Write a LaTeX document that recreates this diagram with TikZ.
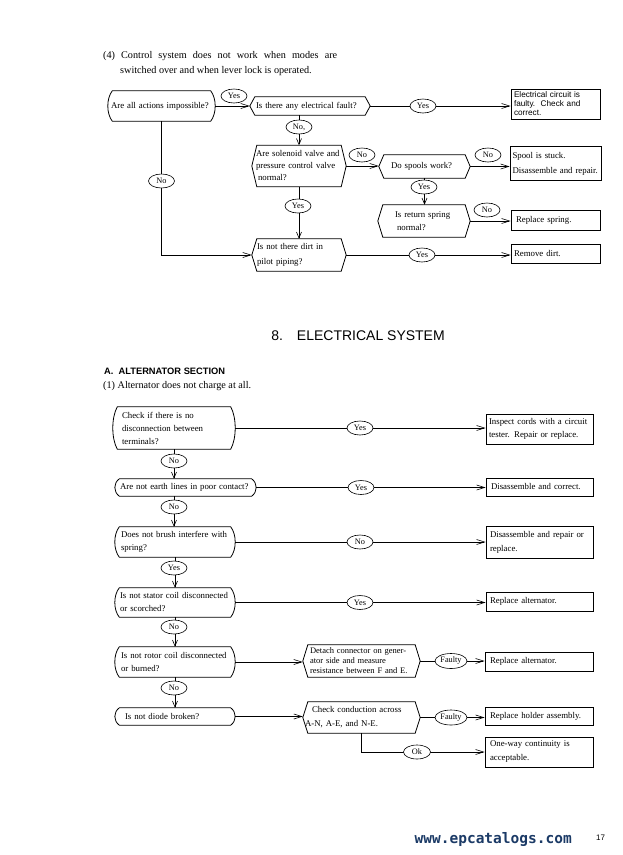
\documentclass[tikz,border=0pt]{standalone}
\usepackage{fontspec}
\setmainfont{Liberation Serif}
\newfontfamily\hsans{Liberation Sans}
\newfontfamily\hmono{DejaVu Sans Mono}
\usetikzlibrary{arrows.meta,calc,shapes.geometric}
\definecolor{navy}{HTML}{1B3A66}
\newcommand\boxfnt[1]{\fontsize{8.8}{#1}\selectfont}
\begin{document}
\begin{tikzpicture}[x=1pt,y=-1pt,
  txt/.style={font=\boxfnt{12.5}, align=left, inner ysep=0pt},
  rbox/.style={txt, draw, line width=0.8pt, inner xsep=3pt},
  cbox/.style={txt, inner xsep=5pt},
  hbox/.style={txt, inner xsep=7pt},
  shp/.style={line width=0.8pt},
  lab/.style={draw, ellipse, fill=white, line width=0.6pt, inner sep=0pt, minimum width=26pt, minimum height=14pt, font=\fontsize{8.3}{9}\selectfont},
  con/.style={line width=0.6pt},
  arr/.style={con, -{Straight Barb[length=8pt,width=5pt]}},
  varr/.style={con, -{Straight Barb[length=6pt,width=5pt]}}
]
\useasboundingbox (0,0) rectangle (623,855);
\fill[white] (0,0) rectangle (623,855);

% ---------- heading texts ----------
\node[anchor=north west, inner sep=0pt, align=left, font=\fontsize{10.2}{15}\selectfont] (title) at (103,51)
  {\makebox[234pt][s]{(4) Control system does not work when modes are}\\\hspace*{17pt}switched over and when lever lock is operated.};

% ---------- top flow ----------
\node[cbox, inner xsep=3pt, text width=101pt, minimum height=30pt] (A) at (161.5,106) {\mbox{Are all actions impossible?}};
\node[hbox, inner xsep=6pt, text width=108pt, minimum height=18pt] (B) at (310,106) {Is there any electrical fault?};
\node[rbox, text width=83pt, minimum height=30pt, font=\hsans\fontsize{8.2}{9}\selectfont] (C) at (555.5,104) {Electrical circuit is\\faulty.\ \ Check and\\correct.};
\node[hbox, inner xsep=4pt, text width=86pt, minimum height=41pt, font=\boxfnt{12}] (D) at (299,166) {Are solenoid valve and\\pressure control valve\\\hspace*{2pt}normal?};
\node[hbox, text width=77pt, minimum height=23pt] (E) at (424.5,166.5) {\hspace*{5pt}Do spools work?};
\node[rbox, inner xsep=2.5pt, text width=86pt, minimum height=34pt, font=\boxfnt{15}] (F) at (555.5,163.5) {Spool is stuck.\\Disassemble and repair.};
\node[hbox, text width=78pt, minimum height=32pt, font=\boxfnt{13.5}] (G) at (424,221) {\hspace*{10pt}Is return spring\\\hspace*{12pt}normal?};
\node[rbox, inner xsep=5pt, text width=79pt, minimum height=20pt] (H) at (555.5,220) {Replace spring.};
\node[hbox, inner xsep=5pt, text width=84pt, minimum height=32pt, font=\boxfnt{15}] (I) at (299,255) {Is not there dirt in\\pilot piping?};
\node[rbox, text width=83pt, minimum height=19pt] (J) at (555.5,253.5) {Remove dirt.};

% ---------- section headings ----------
\node[inner sep=0pt, font=\hsans\fontsize{14}{16}\selectfont] (sec) at (358,336) {8.\quad ELECTRICAL SYSTEM};
\node[anchor=west, inner sep=0pt, font=\hsans\bfseries\fontsize{9.3}{10}\selectfont] (sub) at (104,371) {A.\ \ ALTERNATOR SECTION};
\node[anchor=west, inner sep=0pt, font=\fontsize{10.2}{11}\selectfont] (sub1) at (103,386) {(1) Alternator does not charge at all.};

% ---------- bottom flow ----------
\node[cbox, inner xsep=9pt, text width=104pt, minimum height=42pt, font=\boxfnt{13}] (K) at (174,428) {Check if there is no\\disconnection between\\terminals?};
\node[rbox, text width=101pt, minimum height=30pt, font=\boxfnt{13}] (L) at (539.5,429) {Inspect cords with a circuit\\tester. Repair or replace.};
\node[cbox, text width=131pt, minimum height=17pt] (M) at (185.5,487.5) {Are not earth lines in poor contact?};
\node[rbox, inner xsep=5pt, text width=97pt, minimum height=18pt] (N) at (539.5,487) {Disassemble and correct.};
\node[cbox, inner xsep=6pt, text width=108pt, minimum height=30pt, font=\boxfnt{13}] (O) at (175,542) {Does not brush interfere with\\spring?};
\node[rbox, inner xsep=4pt, text width=99pt, minimum height=32pt, font=\boxfnt{14}] (P) at (539.5,542) {Disassemble and repair or\\replace.};
\node[cbox, text width=110pt, minimum height=29pt, font=\boxfnt{13}] (Q) at (175,602.5) {Is not stator coil disconnected\\or scorched?};
\node[rbox, inner xsep=4pt, text width=99pt, minimum height=19pt] (R) at (539.5,601.5) {Replace alternator.};
\node[cbox, inner xsep=6pt, text width=108pt, minimum height=30pt, font=\boxfnt{13}] (S) at (175,662) {Is not rotor coil disconnected\\or burned?};
\node[hbox, text width=103pt, minimum height=32pt, font=\fontsize{8.5}{10}\selectfont] (T) at (361.5,661) {Detach connector on gener-\\ator side and measure\\resistance between F and E.};
\node[rbox, inner xsep=5pt, text width=98pt, minimum height=19pt] (U) at (539,661.5) {Replace alternator.};
\node[cbox, inner xsep=10pt, text width=100pt, minimum height=17pt] (V) at (175,716.5) {Is not diode broken?};
\node[hbox, inner xsep=2pt, text width=113pt, minimum height=31pt, font=\boxfnt{14}] (W) at (361.5,717.5) {\hspace*{7pt}Check conduction across\\A-N, A-E, and N-E.};
\node[rbox, inner xsep=5pt, text width=98pt, minimum height=18pt] (X) at (539,716.5) {Replace holder assembly.};
\node[rbox, inner xsep=5pt, text width=98pt, minimum height=30pt, font=\boxfnt{14}] (Y) at (539,752) {One-way continuity is\\acceptable.};

% ---------- outlines: curved boxes ----------
\foreach \n in {A,K,M,O,Q,S,V}{
  \draw[shp] ([xshift=4.5pt]\n.north west) -- ([xshift=-4.5pt]\n.north east)
    .. controls ($(\n.north east)!0.25!(\n.south east)+(1.5pt,0)$) and ($(\n.north east)!0.75!(\n.south east)+(1.5pt,0)$) .. ([xshift=-4.5pt]\n.south east)
    -- ([xshift=4.5pt]\n.south west)
    .. controls ($(\n.south west)!0.25!(\n.north west)+(-1.5pt,0)$) and ($(\n.south west)!0.75!(\n.north west)+(-1.5pt,0)$) .. cycle;
}
% ---------- outlines: hexagons ----------
\foreach \n in {B,D,E,G,I,T,W}{
  \draw[shp] ([xshift=5pt]\n.north west) -- ([xshift=-5pt]\n.north east) -- (\n.east)
    -- ([xshift=-5pt]\n.south east) -- ([xshift=5pt]\n.south west) -- (\n.west) -- cycle;
}

% ---------- connectors top ----------
\draw[arr] (A.east) -- (A.east -| B.west);
\draw[arr] (B.east) -- (B.east -| C.west);
\draw[varr] (D.north |- B.south) -- (D.north);
\draw[arr] (D.east) -- (D.east -| E.west);
\draw[arr] (E.east) -- (E.east -| F.west);
\draw[varr] (E.south) -- (E.south |- G.north);
\draw[arr] (G.east) -- (G.east -| H.west);
\draw[varr] (D.south) -- (D.south |- I.north);
\draw[arr] (I.east) -- (I.east -| J.west);
\draw[arr] (A.south) -- (A.south |- I.west) -- (I.west);

% ---------- connectors bottom ----------
\draw[arr] (K.east) -- (K.east -| L.west);
\draw[varr] (K.south) -- (K.south |- M.north);
\draw[arr] (M.east) -- (M.east -| N.west);
\draw[varr] (K.south |- M.south) -- (K.south |- O.north);
\draw[arr] (O.east) -- (O.east -| P.west);
\draw[varr] (O.south) -- (O.south |- Q.north);
\draw[arr] (Q.east) -- (Q.east -| R.west);
\draw[varr] (Q.south) -- (Q.south |- S.north);
\draw[arr] (S.east) -- (S.east -| T.west);
\draw[arr] (T.east) -- (T.east -| U.west);
\draw[varr] (S.south) -- (S.south |- V.north);
\draw[arr] (V.east) -- (V.east -| W.west);
\draw[arr] (W.east) -- (W.east -| X.west);
\draw[arr] (W.south) |- (Y.west);

% ---------- labels top ----------
\node[lab] (yA) at (234,96) {Yes};
\node[lab] (yB) at (423,106) {Yes};
\node[lab] (nB) at (299,127) {No,};
\node[lab] (nD) at (362,155) {No};
\node[lab] (nE) at (488,155) {No};
\node[lab] (yE) at (424,187) {Yes};
\node[lab] (nG) at (487,210) {No};
\node[lab] (yD) at (298,206) {Yes};
\node[lab] (yI) at (422,255) {Yes};
\node[lab] (nA) at (161.5,181) {No};

% ---------- labels bottom ----------
\node[lab] (yK) at (360,428) {Yes};
\node[lab] (nK) at (174,461) {No};
\node[lab] (yM) at (361,487.5) {Yes};
\node[lab] (nM) at (174,507) {No};
\node[lab] (nO) at (360,542) {No};
\node[lab] (yO) at (174,568) {Yes};
\node[lab] (yQ) at (360,602.5) {Yes};
\node[lab] (nQ) at (174,627) {No};
\node[lab, minimum width=32pt, minimum height=15pt] (fT) at (451,661) {Faulty};
\node[lab] (nS) at (174,688) {No};
\node[lab, minimum width=32pt, minimum height=15pt] (fW) at (451,717.5) {Faulty};
\node[lab, minimum width=27pt] (okW) at (417,752) {Ok};

% ---------- footer ----------
\node[anchor=east, inner sep=0pt, text=navy, font=\hmono\bfseries\fontsize{14.5}{16}\selectfont] (url) at (572,839) {www.epcatalogs.com};
\node[anchor=west, inner sep=0pt, font=\hsans\fontsize{8}{9}\selectfont] (pg) at (596,838) {17};
\end{tikzpicture}
\end{document}
